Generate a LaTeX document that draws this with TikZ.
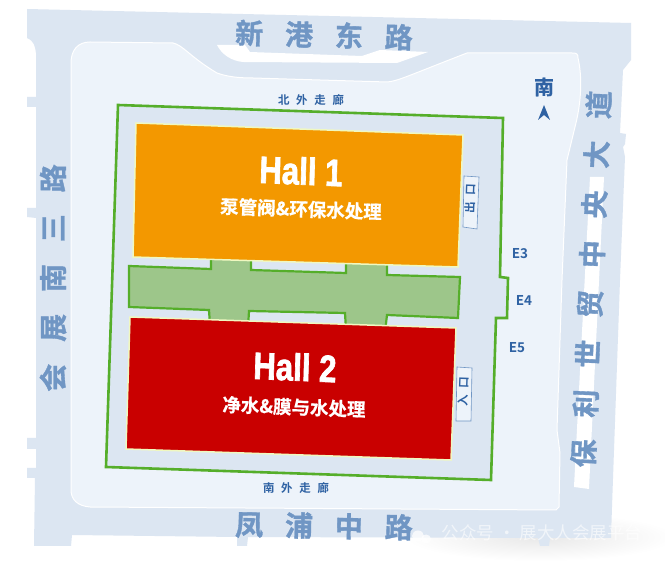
\documentclass[tikz,border=0pt]{standalone}
\usepackage{fontspec}
\setmainfont{Noto Sans CJK SC}
\newfontfamily\roadfont[LetterSpace=78,FakeBold=1.2]{Noto Sans CJK SC Bold}
\newfontfamily\walkfont[LetterSpace=58]{Noto Sans CJK SC Bold}
\newfontfamily\hallfont[FakeBold=2]{Liberation Sans Bold}
\newfontfamily\subfont[FakeBold=0.6]{Noto Sans CJK SC Bold}

\definecolor{roadblue}{HTML}{DCE6F2}
\definecolor{lotblue}{HTML}{EDF3FA}
\definecolor{roadtext}{HTML}{7096C4}
\definecolor{darktext}{HTML}{2F62A3}
\definecolor{outline}{HTML}{55AE2A}
\definecolor{hallone}{HTML}{F39800}
\definecolor{halltwo}{HTML}{C90000}
\definecolor{corridor}{HTML}{9DC68A}
\definecolor{hallrim}{HTML}{F0F8C0}

\tikzset{
  road/.style={text=roadtext,font=\roadfont\fontsize{28}{30}\selectfont,inner sep=0pt},
  walk/.style={text=darktext,font=\walkfont\fontsize{11.5}{13}\selectfont,inner sep=0pt},
  gate/.style={text=darktext,font=\walkfont\fontsize{13.5}{16}\addfontfeature{LetterSpace=0}\selectfont,inner sep=0pt},
  hallname/.style={text=white,font=\hallfont\fontsize{38}{40}\selectfont,inner sep=0pt,xscale=0.82},
  hallsub/.style={text=white,font=\subfont\fontsize{18.5}{20}\selectfont,inner sep=0pt},
  hall/.style={draw=hallrim,line width=1.5pt},
  door/.style={draw=roadtext,fill=lotblue,line width=0.6pt},
  doortext/.style={text=darktext,font=\walkfont\fontsize{11.5}{13}\selectfont,inner sep=0pt,rotate=88},
}

\begin{document}
\begin{tikzpicture}[x=1pt,y=-1pt]

\useasboundingbox[fill=white] (0,0) rectangle (665,561);

\shade[inner color=black!9,outer color=white] (540,537) ellipse (135pt and 24pt);

\fill[roadblue] (27,9) -- (631,23) -- (631,60) -- (623,70) -- (620,133) -- (626,134)
  -- (625,144) -- (623,147) -- (625,157) -- (620,280) -- (612,507) -- (611,538)
  -- (550,538) -- (549,546) -- (540,546) -- (538,538) -- (248,537) -- (247,546)
  -- (237,546) -- (237,537) -- (72,535) -- (71,546) -- (34,546) -- (35,478) -- (27,478)
  -- (27,468) -- (36,468) -- (36,449) -- (27,449) -- (27,438) -- (36,438) -- (36,218)
  -- (27,217) -- (27,208) -- (36,208) -- (36,107) -- (27,107) -- (27,97) -- (36,97)
  -- (36,53) .. controls (35,46) and (34,41) .. (27,38) -- cycle;

\fill[white] (217,45) -- (245,45) -- (250,52) -- (362,56) -- (380,50) -- (428,52)
  -- (397,63) -- (243,62) .. controls (232,61) and (222,55) .. (217,45) -- cycle;

\fill[white] (590,177) -- (604,177) -- (589,489) -- (574,487) -- cycle;

\draw[white,line width=1pt,fill=lotblue] (71,63) .. controls (71,50) and (78,42) .. (90,42)
  -- (173,43) .. controls (183,45) and (190,57) .. (217,73)
  .. controls (228,77) and (240,78) .. (253,78) -- (387,82)
  .. controls (398,81) and (405,77) .. (467,53) -- (572,53) .. controls (577,53) and (578,54) .. (578,58)
  .. controls (582,75) and (582,100) .. (575,127) -- (567,160) -- (562,280) -- (557,430)
  -- (560,453) -- (559,507) -- (556,510) -- (90,507)
  .. controls (78,506) and (71,500) .. (71,490) -- cycle;

\draw[outline,line width=2.6pt,fill=roadblue] (118,105) -- (503,118) -- (500,277) -- (508,278)
  -- (507,318) -- (496,318) -- (491,480) -- (106,467) -- cycle;

\draw[outline,line width=2.2pt,fill=corridor] (129,266) -- (211,269) -- (211,255) -- (251,256)
  -- (251,270) -- (346,273) -- (346,258) -- (387,260) -- (387,275) -- (460,277)
  -- (458,318) -- (387,315) -- (385,332) -- (346,330) -- (345,313) -- (249,311)
  -- (248,328) -- (210,325) -- (209,310) -- (129,307) -- cycle;

\draw[hall,fill=hallone] (136,123) -- (463,135) -- (458,267) -- (133,257) -- cycle;
\draw[hall,fill=halltwo] (130,317) -- (456,328) -- (451,460) -- (126,449) -- cycle;

\draw[door] (464,176) -- (479,177) -- (477,229) -- (463,227) -- cycle;
\draw[door] (457,367) -- (472,368) -- (471,421) -- (456,421) -- cycle;

\node[road,rotate=-1.5] (north) at (324,35) {新港东路};
\node[road,rotate=-1] (south) at (324,526) {凤浦中路};
\node[road,rotate=90] (west) at (53,278) {会展南三路};
\node[road,rotate=87.5] (east) at (591,279) {保利世贸中央大道};

\node[walk,rotate=1] (northwalk) at (311,100) {北外走廊};
\node[walk,rotate=1] (southwalk) at (296,488) {南外走廊};

\node[doortext] (exit) at (470,199) {出口};
\node[doortext] (entry) at (463,392) {入口};

\node[gate] (ethree) at (520,254) {E3};
\node[gate] (efour) at (524,301) {E4};
\node[gate] (efive) at (517,348) {E5};

\node[text=darktext,font=\subfont\fontsize{20}{22}\selectfont,inner sep=0pt] (mark) at (544,87) {南};
\fill[darktext] (544,105) -- (550,120) -- (544,115) -- (538,120) -- cycle;

\node[hallname,rotate=-2] (hallonename) at (301,171) {Hall 1};
\node[hallsub,rotate=-2] (hallonesub) at (301,209) {泵管阀\&环保水处理};
\node[hallname,rotate=-2] (halltwoname) at (295,367) {Hall 2};
\node[hallsub,rotate=-2] (halltwosub) at (294,407) {净水\&膜与水处理};

\fill[white,opacity=0.75] (418,536) ellipse (6pt and 5.5pt);
\fill[white,opacity=0.75] (426,539) ellipse (5pt and 4.5pt);
\node[text=white,opacity=0.6,font=\fontsize{17.5}{20}\selectfont,inner sep=0pt] (watermark) at (542,533) {公众号 · 展大人会展平台};

\end{tikzpicture}
\end{document}
